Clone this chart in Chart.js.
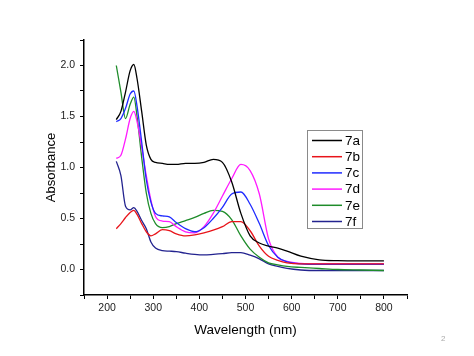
<!DOCTYPE html>
<html>
<head>
<meta charset="utf-8">
<script src="https://cdn.jsdelivr.net/npm/chart.js@4/dist/chart.umd.min.js"></script>
<style>
  html, body { margin: 0; padding: 0; background: #fff; }
  #wrap { position: relative; width: 474px; height: 356px; }
  #pg { position: absolute; left: 441px; top: 334px; font: 8px "Liberation Sans", Arial, sans-serif; color: #aaa; }
</style>
</head>
<body>
<div id="wrap">
  <canvas id="c" width="474" height="356"></canvas>
  <div id="pg">2</div>
</div>
<script>
const wavelengths = [220, 230, 240, 250, 258, 265, 275, 285, 295, 305, 320, 335, 350, 370, 390, 410, 430, 450, 470, 490, 510, 530, 550, 570, 590, 620, 660, 700, 750, 800];
const seriesNames = ["7a", "7b", "7c", "7d", "7e", "7f"];
const a7a = [1.47, 1.55, 1.74, 1.95, 2.01, 1.87, 1.55, 1.22, 1.08, 1.05, 1.04, 1.03, 1.03, 1.04, 1.04, 1.05, 1.08, 1.05, 0.86, 0.55, 0.33, 0.26, 0.23, 0.21, 0.18, 0.13, 0.095, 0.087, 0.085, 0.085];
const a7b = [0.40, 0.45, 0.51, 0.56, 0.58, 0.54, 0.45, 0.37, 0.33, 0.35, 0.39, 0.38, 0.35, 0.33, 0.34, 0.36, 0.385, 0.42, 0.47, 0.47, 0.38, 0.23, 0.13, 0.09, 0.065, 0.055, 0.055, 0.055, 0.055, 0.055];
const a7c = [1.45, 1.48, 1.58, 1.72, 1.75, 1.60, 1.25, 0.88, 0.66, 0.55, 0.525, 0.515, 0.46, 0.40, 0.37, 0.41, 0.50, 0.61, 0.74, 0.76, 0.64, 0.45, 0.235, 0.12, 0.075, 0.055, 0.05, 0.05, 0.05, 0.05];
const a7d = [1.09, 1.12, 1.28, 1.48, 1.55, 1.45, 1.20, 0.92, 0.68, 0.52, 0.475, 0.47, 0.42, 0.37, 0.36, 0.42, 0.55, 0.72, 0.89, 1.03, 0.97, 0.74, 0.30, 0.12, 0.08, 0.06, 0.055, 0.055, 0.055, 0.055];
const a7e = [2.00, 1.74, 1.48, 1.62, 1.69, 1.50, 1.10, 0.75, 0.55, 0.45, 0.41, 0.42, 0.45, 0.48, 0.51, 0.55, 0.58, 0.57, 0.49, 0.33, 0.20, 0.12, 0.065, 0.045, 0.03, 0.02, 0.01, 0.0, -0.005, -0.01];
const a7f = [1.06, 0.92, 0.62, 0.585, 0.607, 0.57, 0.48, 0.40, 0.27, 0.21, 0.185, 0.18, 0.175, 0.16, 0.148, 0.143, 0.148, 0.155, 0.165, 0.165, 0.14, 0.105, 0.055, 0.03, 0.01, -0.005, -0.01, -0.01, -0.01, -0.01];
const seriesValues = [a7a, a7b, a7c, a7d, a7e, a7f];
const seriesColors = ["#000000", "#e8141a", "#1f2bff", "#ff1aff", "#1e8c2a", "#23238f"];
const xTickValues = [200, 300, 400, 500, 600, 700, 800];
const yTickValues = [0.0, 0.5, 1.0, 1.5, 2.0];

const datasets = seriesNames.map((name, i) => ({
  label: name,
  data: wavelengths.map((w, j) => ({ x: w, y: seriesValues[i][j] })),
  borderColor: seriesColors[i],
  backgroundColor: seriesColors[i],
  borderWidth: 1.3,
  pointRadius: 0,
  fill: false,
  cubicInterpolationMode: 'monotone'
}));

const legendBox = {
  id: 'legendBox',
  afterDraw(chart) {
    const ctx = chart.ctx;
    ctx.save();
    ctx.strokeStyle = '#8a8a8a';
    ctx.lineWidth = 1;
    ctx.strokeRect(307.5, 130.5, 55, 98);
    ctx.font = '13.5px "Liberation Sans", Arial, sans-serif';
    ctx.textBaseline = 'middle';
    ctx.textAlign = 'left';
    chart.data.datasets.forEach((ds, i) => {
      const y = 140.5 + i * 16.2;
      ctx.strokeStyle = ds.borderColor;
      ctx.lineWidth = 1.5;
      ctx.beginPath();
      ctx.moveTo(312, y);
      ctx.lineTo(342, y);
      ctx.stroke();
      ctx.fillStyle = '#000';
      ctx.fillText(ds.label, 345, y + 0.5);
    });
    ctx.restore();
  }
};

new Chart(document.getElementById('c'), {
  type: 'line',
  data: { datasets },
  options: {
    responsive: false,
    animation: false,
    events: [],
    layout: { padding: { left: 0, top: 40, right: 67, bottom: 0 } },
    plugins: { legend: { display: false }, tooltip: { enabled: false } },
    scales: {
      x: {
        type: 'linear',
        min: 150, max: 850,
        afterFit(s) { s.height = 61; },
        border: { display: true, color: '#000', width: 1.5 },
        grid: { drawOnChartArea: false, drawTicks: true, tickLength: 4, color: '#000', lineWidth: 1 },
        ticks: {
          stepSize: 50, autoSkip: false, maxRotation: 0, padding: 3,
          color: '#222',
          font: { family: '"Liberation Sans", Arial, sans-serif', size: 10.5 },
          callback: v => xTickValues.includes(v) ? String(v) : ''
        },
        title: {
          display: true, text: 'Wavelength (nm)', color: '#000',
          font: { family: '"Liberation Sans", Arial, sans-serif', size: 13.5 },
          padding: { top: 0, bottom: 18 }
        }
      },
      y: {
        type: 'linear',
        min: -0.25, max: 2.25,
        afterFit(s) { s.width = 84; },
        border: { display: true, color: '#000', width: 1.5 },
        grid: { drawOnChartArea: false, drawTicks: true, tickLength: 4, color: '#000', lineWidth: 1 },
        ticks: {
          stepSize: 0.25, autoSkip: false, padding: 5,
          color: '#222',
          font: { family: '"Liberation Sans", Arial, sans-serif', size: 10.5 },
          callback: v => yTickValues.some(t => Math.abs(t - v) < 1e-6) ? v.toFixed(1) : ''
        },
        title: {
          display: true, text: 'Absorbance', color: '#000',
          font: { family: '"Liberation Sans", Arial, sans-serif', size: 13 },
          padding: { top: 44, bottom: 0 }
        }
      }
    }
  },
  plugins: [legendBox]
});
</script>
</body>
</html>
